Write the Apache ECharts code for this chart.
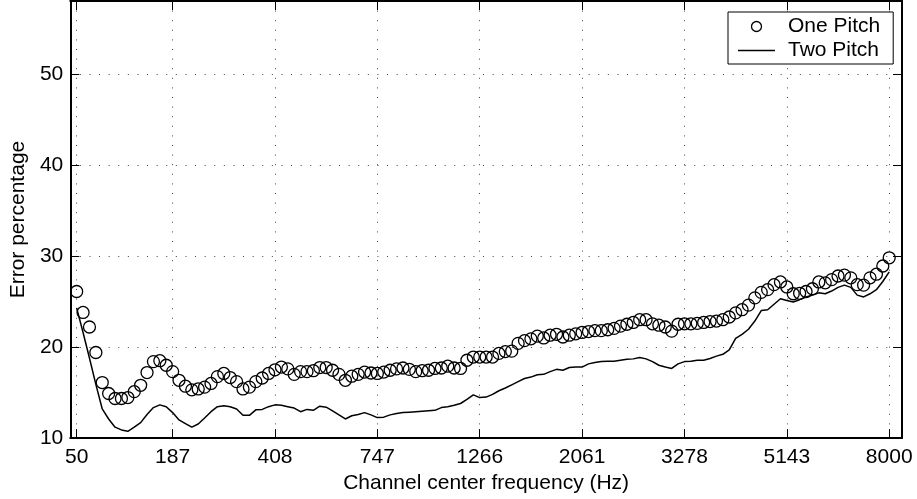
<!DOCTYPE html>
<html>
<head>
<meta charset="utf-8">
<script src="https://cdn.jsdelivr.net/npm/echarts@6/dist/echarts.min.js"></script>
<style>
html,body{margin:0;padding:0;background:#fff;}
#chart{width:917px;height:499px;}
</style>
</head>
<body>
<div id="chart"></div>
<script>
// Channel index 1..128
const tickChannels = [1, 16, 32, 48, 64, 80, 96, 112, 128];
const tickLabels = ['50', '187', '408', '747', '1266', '2061', '3278', '5143', '8000'];
const yTicks = [10, 20, 30, 40, 50];

const onePitch = [
  26.1, 23.8, 22.2, 19.4, 16.1, 14.9, 14.35, 14.35, 14.45, 15.1,
  15.8, 17.2, 18.4, 18.5, 18.0, 17.3, 16.35, 15.7, 15.3, 15.4,
  15.6, 16.0, 16.75, 17.1, 16.65, 16.2, 15.4, 15.6, 16.2, 16.6,
  17.1, 17.5, 17.8, 17.6, 17.0, 17.3, 17.3, 17.4, 17.75, 17.75,
  17.45, 17.0, 16.35, 16.8, 17.0, 17.25, 17.15, 17.1, 17.25, 17.45,
  17.6, 17.7, 17.55, 17.3, 17.4, 17.45, 17.65, 17.7, 17.9, 17.7,
  17.65, 18.55, 18.9, 18.9, 18.9, 18.9, 19.3, 19.5, 19.55, 20.4,
  20.7, 20.9, 21.2, 21.0, 21.3, 21.4, 21.1, 21.3, 21.45, 21.6,
  21.7, 21.8, 21.8, 21.9, 22.05, 22.3, 22.5, 22.7, 23.0, 23.0,
  22.55, 22.4, 22.2, 21.75, 22.5, 22.55, 22.55, 22.6, 22.7, 22.8,
  22.85, 23.0, 23.3, 23.75, 24.1, 24.6, 25.4, 26.0, 26.3, 26.85,
  27.15, 26.6, 25.85, 25.9, 26.1, 26.4, 27.15, 27.05, 27.4, 27.8,
  27.9, 27.6, 26.85, 26.8, 27.6, 28.0, 28.9, 29.8
];

const twoPitch = [
  24.3, 21.6, 18.8, 15.9, 13.2, 12.1, 11.2, 10.9, 10.75, 11.2,
  11.7, 12.6, 13.35, 13.65, 13.45, 12.8, 12.0, 11.6, 11.2, 11.55,
  12.2, 12.9, 13.45, 13.55, 13.45, 13.2, 12.5, 12.5, 13.1, 13.15,
  13.45, 13.65, 13.6, 13.45, 13.3, 12.9, 13.15, 13.05, 13.5, 13.4,
  13.0, 12.55, 12.1, 12.45, 12.6, 12.8, 12.55, 12.25, 12.3, 12.55,
  12.7, 12.8, 12.85, 12.9, 12.95, 13.0, 13.05, 13.35, 13.45, 13.6,
  13.8, 14.25, 14.75, 14.45, 14.5, 14.8, 15.2, 15.5, 15.85, 16.2,
  16.55, 16.7, 16.95, 17.0, 17.3, 17.55, 17.45, 17.75, 17.8, 17.8,
  18.15, 18.3, 18.4, 18.45, 18.45, 18.55, 18.65, 18.7, 18.85, 18.7,
  18.4, 18.0, 17.8, 17.65, 18.15, 18.4, 18.45, 18.55, 18.55, 18.75,
  19.0, 19.2, 19.7, 20.95, 21.4, 21.95, 22.85, 24.0, 24.1, 24.7,
  25.3, 25.1, 24.95, 25.2, 25.5, 25.7, 25.95, 25.85, 26.15, 26.55,
  26.8, 26.55, 25.7, 25.5, 25.85, 26.3, 27.2, 28.25
];

const FONT = 'Liberation Sans';
const FS = 21;

const toPairs = arr => arr.map((v, i) => [i + 1, v]);
const labelOf = v => {
  const k = tickChannels.indexOf(Math.round(v));
  return k >= 0 ? tickLabels[k] : '';
};

const axisLineStyle = { color: '#000', width: 2 };
const tickStyle = { color: '#000', width: 1 };
const gridStyle = { color: '#444', width: 1, type: [1, 8.6] };

const chart = echarts.init(document.getElementById('chart'), null, { renderer: 'canvas' });
chart.setOption({
  animation: false,
  backgroundColor: '#fff',
  grid: { left: 70, right: 15, top: 1, bottom: 60 },
  xAxis: [
    {
      type: 'value', min: 0, max: 130, position: 'bottom',
      name: 'Channel center frequency (Hz)', nameLocation: 'middle', nameGap: 32,
      nameTextStyle: { fontFamily: FONT, fontSize: FS, color: '#000' },
      axisLine: { show: true, onZero: false, lineStyle: axisLineStyle },
      axisTick: { show: true, inside: true, length: 9, lineStyle: tickStyle, customValues: tickChannels },
      axisLabel: { show: true, margin: 9, fontFamily: FONT, fontSize: FS, color: '#000', customValues: tickChannels, formatter: labelOf },
      splitLine: { show: true, lineStyle: gridStyle }
    },
    {
      type: 'value', min: 0, max: 130, position: 'top',
      axisLine: { show: true, onZero: false, lineStyle: axisLineStyle },
      axisTick: { show: true, inside: true, length: 9, lineStyle: tickStyle, customValues: tickChannels },
      axisLabel: { show: false },
      splitLine: { show: false }
    }
  ],
  yAxis: [
    {
      type: 'value', min: 10, max: 58, position: 'left',
      name: 'Error percentage', nameLocation: 'middle', nameGap: 41, nameRotate: 90,
      nameTextStyle: { fontFamily: FONT, fontSize: FS, color: '#000' },
      axisLine: { show: true, onZero: false, lineStyle: axisLineStyle },
      axisTick: { show: true, inside: true, length: 9, lineStyle: tickStyle, customValues: yTicks },
      axisLabel: { show: true, margin: 7, fontFamily: FONT, fontSize: FS, color: '#000', customValues: yTicks },
      splitLine: { show: true, lineStyle: gridStyle }
    },
    {
      type: 'value', min: 10, max: 58, position: 'right',
      axisLine: { show: true, onZero: false, lineStyle: axisLineStyle },
      axisTick: { show: true, inside: true, length: 9, lineStyle: tickStyle, customValues: yTicks },
      axisLabel: { show: false },
      splitLine: { show: false }
    }
  ],
  legend: {
    orient: 'vertical', left: 728, top: 12,
    padding: [4, 13, 3, 10], itemGap: 3, itemWidth: 37, itemHeight: 10,
    borderColor: '#000', borderWidth: 1, backgroundColor: '#fff',
    textStyle: { fontFamily: FONT, fontSize: FS, color: '#000', padding: [0, 0, 0, 8] },
    data: [
      { name: 'One Pitch', icon: 'circle', itemStyle: { color: 'rgba(0,0,0,0)', borderColor: '#000', borderWidth: 1.3 } },
      { name: 'Two Pitch', icon: 'path://M0,0 L37,0 L37,1.3 L0,1.3 Z' }
    ]
  },
  series: [
    {
      name: 'Two Pitch', type: 'line', xAxisIndex: 0, yAxisIndex: 0,
      data: toPairs(twoPitch), symbol: 'none', showSymbol: false,
      lineStyle: { color: '#000', width: 1.5 }, itemStyle: { color: '#000' }, z: 3
    },
    {
      name: 'One Pitch', type: 'scatter', xAxisIndex: 0, yAxisIndex: 0,
      data: toPairs(onePitch), symbol: 'circle', symbolSize: 12,
      itemStyle: { color: 'rgba(0,0,0,0)', borderColor: '#000', borderWidth: 1.3, opacity: 1 }, z: 4
    }
  ]
});
</script>
</body>
</html>
